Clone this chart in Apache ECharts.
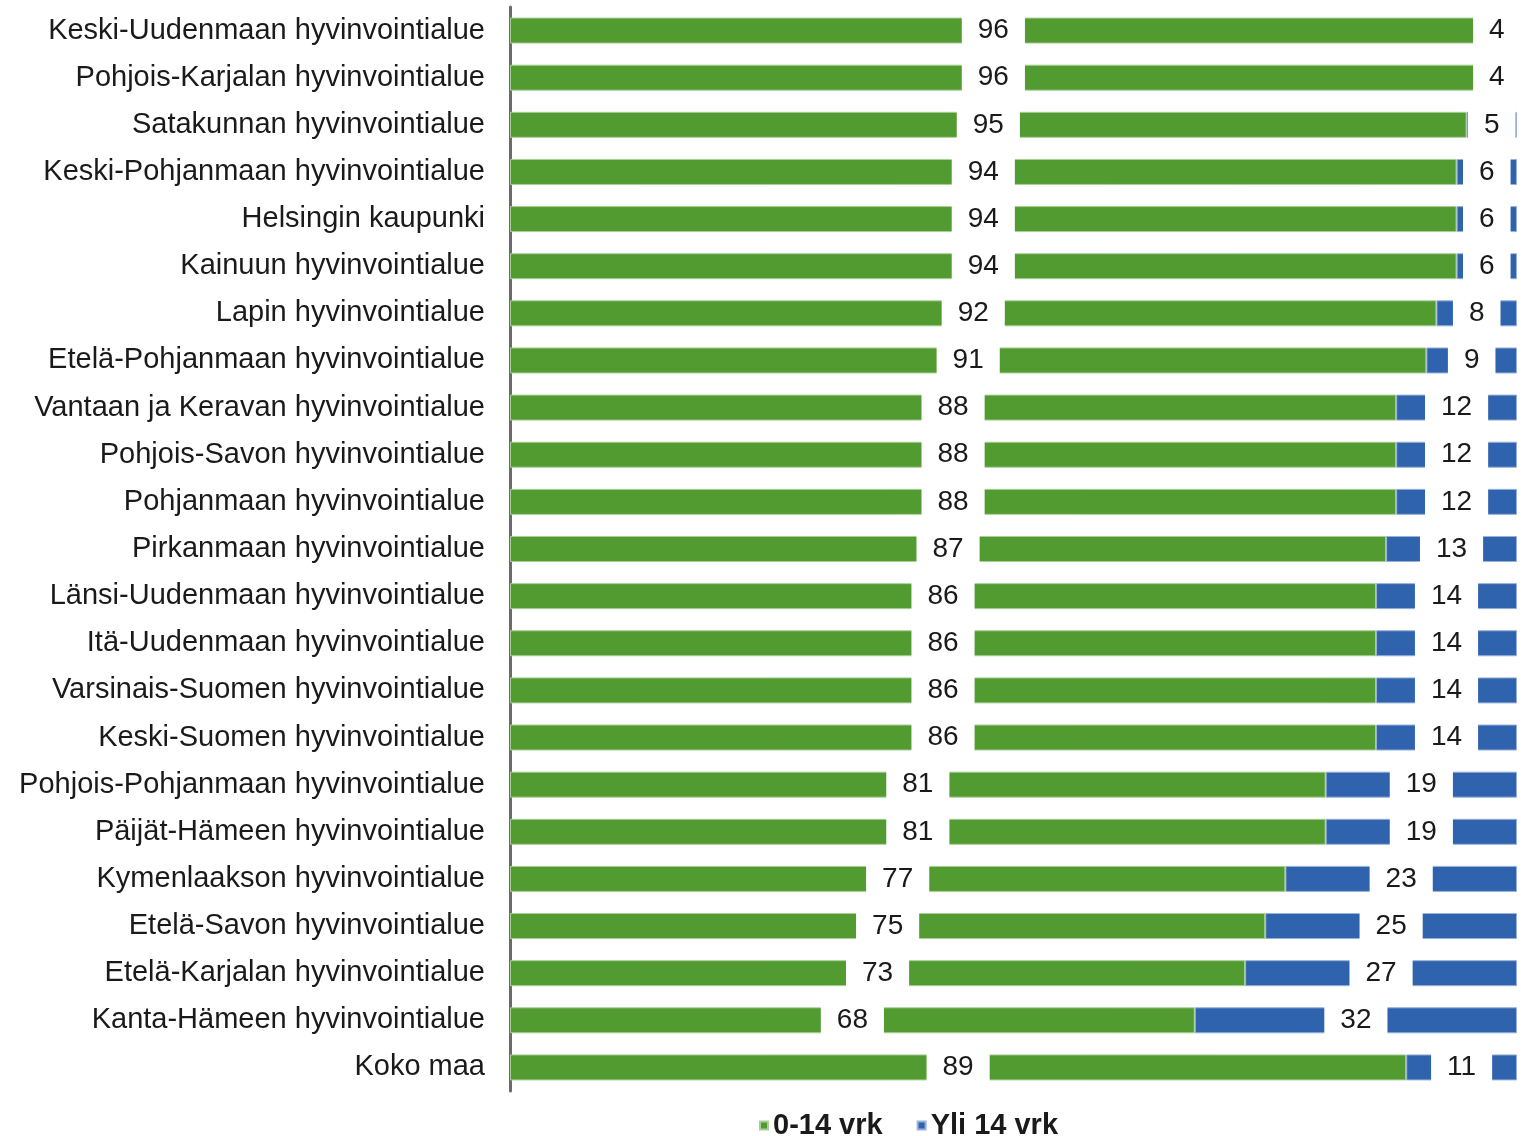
<!DOCTYPE html>
<html><head><meta charset="utf-8">
<script src="https://cdn.jsdelivr.net/npm/echarts@6/dist/echarts.min.js"></script>
<style>html,body{margin:0;padding:0;background:#fff}#c{width:1521px;height:1136px}</style>
</head><body><div id="c"></div>
<script>
const categories = ["Keski-Uudenmaan hyvinvointialue","Pohjois-Karjalan hyvinvointialue","Satakunnan hyvinvointialue","Keski-Pohjanmaan hyvinvointialue","Helsingin kaupunki","Kainuun hyvinvointialue","Lapin hyvinvointialue","Etelä-Pohjanmaan hyvinvointialue","Vantaan ja Keravan hyvinvointialue","Pohjois-Savon hyvinvointialue","Pohjanmaan hyvinvointialue","Pirkanmaan hyvinvointialue","Länsi-Uudenmaan hyvinvointialue","Itä-Uudenmaan hyvinvointialue","Varsinais-Suomen hyvinvointialue","Keski-Suomen hyvinvointialue","Pohjois-Pohjanmaan hyvinvointialue","Päijät-Hämeen hyvinvointialue","Kymenlaakson hyvinvointialue","Etelä-Savon hyvinvointialue","Etelä-Karjalan hyvinvointialue","Kanta-Hämeen hyvinvointialue","Koko maa"];
const short = [96,96,95,94,94,94,92,91,88,88,88,87,86,86,86,86,81,81,77,75,73,68,89];
const long = [4,4,5,6,6,6,8,9,12,12,12,13,14,14,14,14,19,19,23,25,27,32,11];
const seriesNames = ["0-14 vrk","Yli 14 vrk"];
const FONT = "Liberation Sans, Arial, sans-serif";
const chart = echarts.init(document.getElementById('c'), null, {renderer:'canvas'});
const lbl = {show:true, position:'inside', color:'#1a1a1a', fontSize:28, fontFamily:FONT,
  backgroundColor:'#fff', padding:[2,16,0,16], lineHeight:30};
chart.setOption({
  animation:false,
  grid:{left:510, right:4, top:7, bottom:45, containLabel:false},
  xAxis:{type:'value', min:0, max:100, show:false},
  yAxis:{type:'category', data:categories, inverse:true,
    axisLine:{lineStyle:{color:'#6b6b6b', width:3}}, axisTick:{show:false},
    axisLabel:{fontSize:29, fontFamily:FONT, color:'#1a1a1a', margin:25}},
  legend:{top:1106, left:754, itemWidth:8, itemHeight:8, itemGap:34,
    textStyle:{fontSize:29, fontWeight:'bold', fontFamily:FONT, color:'#1a1a1a'},
    data:seriesNames.map(n=>({name:n, icon:'rect'}))},
  series:[
    {name:seriesNames[0], type:'bar', stack:'a', data:short, barWidth:26,
     itemStyle:{color:'#529B30', borderColor:'#a9cf97', borderWidth:1}, label:lbl},
    {name:seriesNames[1], type:'bar', stack:'a', data:long, barWidth:26,
     itemStyle:{color:'#3063AE', borderColor:'#98b1d7', borderWidth:1}, label:lbl}
  ]
});
</script></body></html>
